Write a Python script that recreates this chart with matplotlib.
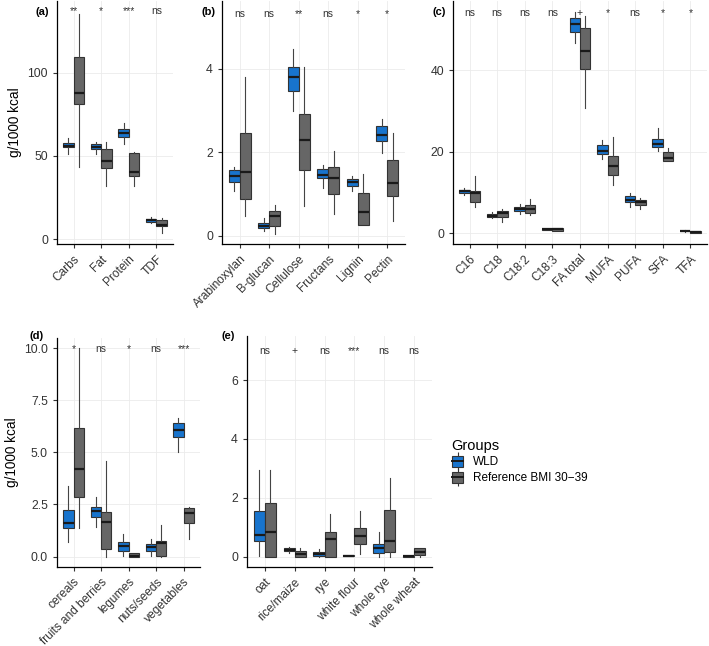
import numpy as np
import matplotlib.pyplot as plt
from matplotlib.patches import Patch
from matplotlib.lines import Line2D

plt.rcParams['font.family'] = ['Liberation Sans', 'DejaVu Sans']

BLUE = '#1874CD'
GREY = '#666666'
EDGE = '#333333'

# each row: low whisker, q1, median, q3, high whisker
a_cats = ['Carbs', 'Fat', 'Protein', 'TDF']
a_wld = [[51, 55, 56, 57.5, 60.5], [51, 54, 55.5, 57, 58.5],
         [57, 61, 63.5, 66, 69.5], [9.5, 10.5, 11.3, 12.3, 13]]
a_ref = [[43.5, 81, 88, 109.5, 135], [32, 42.5, 47, 54, 58],
         [32, 37.7, 40, 51.4, 52.5], [3.5, 8, 8.5, 11.5, 12.5]]
a_sig = ['**', '*', '***', 'ns']

b_cats = ['Arabinoxylan', 'B-glucan', 'Cellulose', 'Fructans', 'Lignin', 'Pectin']
b_wld = [[1.08, 1.28, 1.43, 1.57, 1.65], [0.1, 0.18, 0.24, 0.3, 0.42],
         [2.98, 3.47, 3.79, 4.03, 4.48], [1.15, 1.38, 1.45, 1.6, 1.7],
         [1.08, 1.2, 1.28, 1.36, 1.43], [1.97, 2.26, 2.4, 2.63, 2.8]]
b_ref = [[0.48, 0.88, 1.52, 2.47, 3.8], [0.05, 0.23, 0.47, 0.58, 0.74],
         [0.72, 1.58, 2.28, 2.92, 4.05], [0.52, 1.0, 1.38, 1.65, 2.03],
         [0.25, 0.25, 0.57, 1.01, 1.47], [0.36, 0.96, 1.27, 1.81, 2.45]]
b_sig = ['ns', 'ns', '**', 'ns', '*', '*']

c_cats = ['C16', 'C18', 'C18:2', 'C18:3', 'FA total', 'MUFA', 'PUFA', 'SFA', 'TFA']
c_wld = [[9.3, 9.8, 10.2, 10.6, 11], [3.6, 3.9, 4.2, 4.6, 5.2],
         [4.6, 5.3, 5.8, 6.3, 7.2], [0.7, 0.8, 0.9, 1.0, 1.1],
         [46.8, 49.5, 51.4, 52.8, 54.2], [18.2, 19.3, 20.2, 21.5, 22.8],
         [6.4, 7.7, 8.2, 9.0, 9.8], [20.2, 21.1, 21.8, 23.1, 25.8],
         [0.3, 0.4, 0.5, 0.6, 0.7]]
c_ref = [[6.3, 7.5, 9.8, 10.4, 13.9], [2.8, 4.0, 4.8, 5.5, 5.8],
         [4.4, 4.8, 5.8, 6.8, 8.3], [0.5, 0.6, 0.9, 1.2, 1.3],
         [30.6, 40.3, 44.6, 50.4, 53.2], [11.8, 14.3, 16.4, 19.0, 23.6],
         [6.0, 7.0, 7.6, 8.2, 8.5], [17.6, 17.8, 18.4, 19.9, 20.8],
         [0.0, 0.1, 0.3, 0.5, 0.6]]
c_sig = ['ns', 'ns', 'ns', 'ns', '+', '*', 'ns', '*', '*']

d_cats = ['cereals', 'fruits and berries', 'legumes', 'nuts/seeds', 'vegetables']
d_wld = [[0.72, 1.37, 1.6, 2.22, 3.38], [1.42, 1.92, 2.18, 2.4, 2.88],
         [0.05, 0.28, 0.53, 0.7, 1.07], [0.05, 0.28, 0.45, 0.6, 0.83],
         [5.02, 5.73, 6.05, 6.4, 6.66]]
d_ref = [[1.38, 2.88, 4.21, 6.15, 10.0], [0.0, 0.34, 1.68, 2.16, 4.56],
         [0.0, -0.03, 0.05, 0.18, 0.18], [0.0, 0.03, 0.67, 0.75, 1.5],
         [0.83, 1.6, 2.1, 2.35, 2.4]]
d_sig = ['*', 'ns', '*', 'ns', '***']

e_cats = ['oat', 'rice/maize', 'rye', 'white flour', 'whole rye', 'whole wheat']
e_wld = [[0.03, 0.55, 0.73, 1.55, 2.95], [0.14, 0.2, 0.24, 0.28, 0.34],
         [0.0, 0.03, 0.1, 0.15, 0.26], [0.01, 0.02, 0.04, 0.06, 0.07],
         [0.0, 0.12, 0.31, 0.44, 0.83], [0.0, 0.0, 0.01, 0.02, 0.03]]
e_ref = [[0.0, 0.0, 0.83, 1.82, 2.95], [0.0, 0.0, 0.1, 0.2, 0.28],
         [0.0, 0.0, 0.6, 0.83, 1.45], [0.08, 0.43, 0.7, 0.97, 1.54],
         [0.0, 0.16, 0.55, 1.6, 2.67], [0.0, 0.05, 0.15, 0.3, 0.3]]
e_sig = ['ns', '+', 'ns', '***', 'ns', 'ns']


def to_stats(rows):
    return [dict(whislo=r[0], q1=r[1], med=r[2], q3=r[3], whishi=r[4], fliers=[])
            for r in rows]


def panel(rect, cats, wld, ref, sig, ylim, yticks, sig_y, ylabel=None, ticklabels=None):
    ax = fig.add_axes(rect)
    n = len(cats)
    x = np.arange(n)
    for stats, fill, off in [(to_stats(wld), BLUE, -0.1875), (to_stats(ref), GREY, 0.1875)]:
        ax.bxp(stats, positions=x + off, widths=0.375, patch_artist=True,
               showcaps=False, showfliers=False,
               boxprops=dict(facecolor=fill, edgecolor=EDGE, linewidth=0.8),
               medianprops=dict(color='#1a1a1a', linewidth=1.6),
               whiskerprops=dict(color='#444444', linewidth=0.8))
    for i, s in enumerate(sig):
        ax.text(i, sig_y, s, ha='center', va='center', fontsize=7.5, color='#333333')
    ax.set_xlim(-0.6, n - 0.4)
    ax.set_ylim(*ylim)
    ax.set_xticks(x)
    ax.set_xticklabels(cats, rotation=45, ha='right', rotation_mode='anchor',
                       fontsize=8.6, color='#333333')
    ax.set_yticks(yticks)
    if ticklabels is not None:
        ax.set_yticklabels(ticklabels)
    ax.tick_params(axis='y', labelsize=8.8, labelcolor='#333333')
    ax.tick_params(length=3, color='#333333', width=0.8)
    ax.grid(color='#ebebeb', linewidth=0.6)
    ax.set_axisbelow(True)
    for sp in ['top', 'right']:
        ax.spines[sp].set_visible(False)
    for sp in ['left', 'bottom']:
        ax.spines[sp].set_linewidth(0.9)
    if ylabel:
        ax.set_ylabel(ylabel, fontsize=9.8)
    return ax


W, H = 709, 646
fig = plt.figure(figsize=(W / 100, H / 100), dpi=100)


def rect(l, r, t, b):
    return [l / W, 1 - b / H, (r - l) / W, (b - t) / H]


panel(rect(57, 173, 1, 244), a_cats, a_wld, a_ref, a_sig, (-3, 143), [0, 50, 100], 137,
      ylabel='g/1000 kcal')
panel(rect(222, 405, 1, 244), b_cats, b_wld, b_ref, b_sig, (-0.2, 5.62), [0, 2, 4], 5.3)
panel(rect(453, 707, 1, 244), c_cats, c_wld, c_ref, c_sig, (-2.7, 57), [0, 20, 40], 54)
panel(rect(57, 200, 338, 567), d_cats, d_wld, d_ref, d_sig, (-0.5, 10.48),
      [0, 2.5, 5, 7.5, 10], 9.95, ylabel='g/1000 kcal',
      ticklabels=['0.0', '2.5', '5.0', '7.5', '10.0'])
panel(rect(247, 432, 336, 567), e_cats, e_wld, e_ref, e_sig, (-0.35, 7.5), [0, 2, 4, 6], 7.0)

for lab, px, py in [('(a)', 36, 12), ('(b)', 202, 12), ('(c)', 432, 12),
                    ('(d)', 30, 336), ('(e)', 222, 336)]:
    fig.text(px / W, 1 - py / H, lab, fontsize=8, fontweight='bold', va='center')

handles = []
for fill in [BLUE, GREY]:
    vline = Line2D([], [], marker='|', markersize=13, mew=0.8, color=EDGE, linestyle='None')
    box = Patch(facecolor=fill, edgecolor=EDGE, linewidth=0.8)
    med = Line2D([], [], color='#1a1a1a', linewidth=1.4)
    handles.append((vline, box, med))
fig.legend(handles, ['WLD', 'Reference BMI 30\u221239'], title='Groups',
           loc='upper left', bbox_to_anchor=(441 / W, 1 - 428 / H), frameon=False,
           fontsize=8.5, title_fontsize=10.5, alignment='left',
           handlelength=1.0, handleheight=1.0, handletextpad=0.8, labelspacing=0.3)

fig.savefig('out.png', dpi=100)
